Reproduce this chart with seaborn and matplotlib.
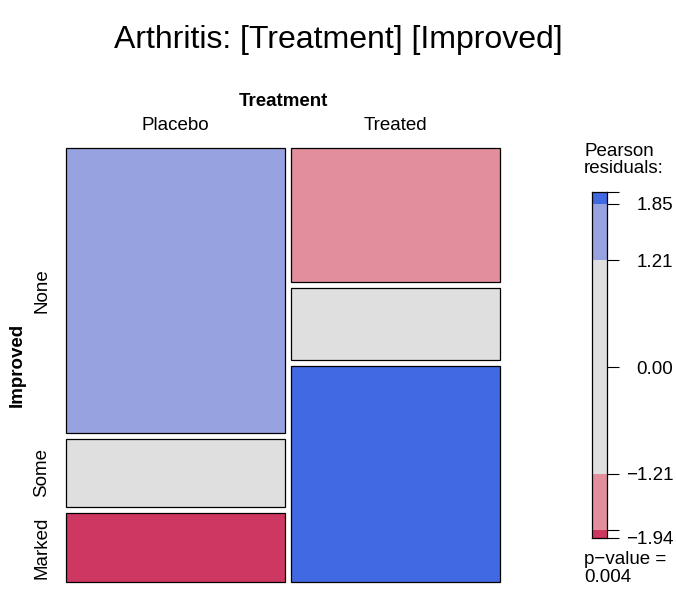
import numpy as np
import seaborn as sns
from matplotlib import pyplot as plt

# Arthritis counts: rows = Improved, columns = Treatment
treatment = ['Placebo', 'Treated']
improved = ['None', 'Some', 'Marked']
counts_placebo = [29, 7, 7]
counts_treated = [13, 7, 21]

# shading breaks (vcd shading_max) and colours
breaks = [1.21, 1.85]
col_dark_blue = '#4169E1'
col_light_blue = '#97A3E0'
col_gray = '#DFDFDF'
col_light_red = '#E28E9D'
col_dark_red = '#CD3761'
p_value = '0.004'

#######################################

sns.set_style('white')
plt.rcParams['font.family'] = ['Liberation Sans', 'DejaVu Sans']
plt.rcParams['text.color'] = 'black'
plt.rcParams['ytick.color'] = 'black'
plt.rcParams['ytick.labelcolor'] = 'black'

tab = np.array([counts_placebo, counts_treated], dtype=float).T
expected = np.outer(tab.sum(axis=1), tab.sum(axis=0)) / tab.sum()
resid = (tab - expected) / np.sqrt(expected)


def shade(r):
    if r >= breaks[1]:
        return col_dark_blue
    if r >= breaks[0]:
        return col_light_blue
    if r <= -breaks[1]:
        return col_dark_red
    if r <= -breaks[0]:
        return col_light_red
    return col_gray


W, H = 676, 589
fs = 13.5
fig = plt.figure(figsize=(W / 100, H / 100), dpi=100)


def px_axes(x0, y0, x1, y1):
    return fig.add_axes([x0 / W, 1 - y1 / H, (x1 - x0) / W, (y1 - y0) / H])


def fig_text(x, y, s, **kw):
    fig.text(x / W, 1 - y / H, s, **kw)


# mosaic
ax = px_axes(66, 148, 500, 582)
size, gap = 434, 6
ax.set_xlim(0, size)
ax.set_ylim(size, 0)
ax.axis('off')

colw = tab.sum(axis=0) / tab.sum() * (size - gap * (len(treatment) - 1))
x = 0
for j, t in enumerate(treatment):
    rowh = tab[:, j] / tab[:, j].sum() * (size - gap * (len(improved) - 1))
    y = 0
    for i, lev in enumerate(improved):
        ax.bar(x, rowh[i], width=colw[j], bottom=y, align='edge',
               color=shade(resid[i, j]), edgecolor='black', linewidth=0.9,
               clip_on=False)
        if j == 0:
            ax.text(-24, y + rowh[i] / 2, lev, rotation=90, ha='center',
                    va='center', fontsize=fs)
        y += rowh[i] + gap
    ax.text(x + colw[j] / 2, -22, t, ha='center', va='center', fontsize=fs)
    x += colw[j] + gap

ax.text(size / 2, -47, 'Treatment', ha='center', va='center',
        fontsize=fs, fontweight='bold')
ax.text(-49, size / 2, 'Improved', rotation=90, ha='center', va='center',
        fontsize=fs, fontweight='bold')

fig_text(W / 2, 40, 'Arthritis: [Treatment] [Improved]', ha='center',
         va='center', fontsize=23)

# legend
lg = px_axes(592, 192, 607, 538)
rmin, rmax = resid.min(), resid.max()
edges = [rmin, -breaks[1], -breaks[0], breaks[0], breaks[1], rmax]
band_cols = [col_dark_red, col_light_red, col_gray, col_light_blue, col_dark_blue]
for k in range(5):
    lg.bar(0, edges[k + 1] - edges[k], width=1, bottom=edges[k],
           align='edge', color=band_cols[k], linewidth=0)
lg.set_xlim(0, 1)
lg.set_ylim(rmin, rmax)
lg.set_xticks([])
ticks = [rmin, -breaks[1], -breaks[0], 0, breaks[0], breaks[1], rmax]
labels = ['%.2f' % rmin, '', '%.2f' % -breaks[0], '0.00',
          '%.2f' % breaks[0], '%.2f' % breaks[1], '']
lg.yaxis.tick_right()
lg.set_yticks(ticks)
lg.set_yticklabels([s.replace('-', '\u2212') for s in labels], fontsize=fs,
                   ha='right')
lg.tick_params(axis='y', direction='out', length=8.6, width=0.8, pad=39,
               colors='black')
for s in lg.spines.values():
    s.set_visible(True)
    s.set_color('black')
    s.set_linewidth(0.9)

fig_text(584, 152, 'Pearson', ha='left', va='center', fontsize=fs)
fig_text(584, 169, 'residuals:', ha='left', va='center', fontsize=fs)
fig_text(584, 560, 'p\u2212value =', ha='left', va='center', fontsize=fs)
fig_text(584, 578, p_value, ha='left', va='center', fontsize=fs)

plt.savefig('out.png', dpi=100)
